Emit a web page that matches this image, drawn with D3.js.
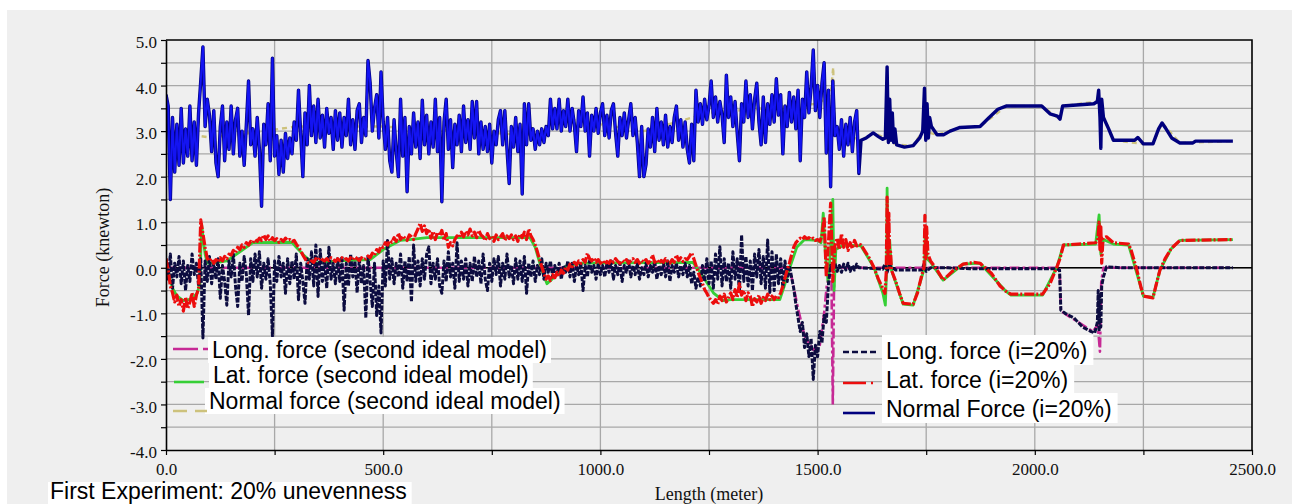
<!DOCTYPE html>
<html>
<head>
<meta charset="utf-8">
<script src="https://cdn.jsdelivr.net/npm/d3@7"></script>
<style>
  html, body { margin: 0; padding: 0; background: #ffffff; }
  svg { display: block; }
</style>
</head>
<body>
<svg id="chart" width="1292" height="504"></svg>
<script>
// ---------------------------------------------------------------------------
// Measured run, 20% unevenness. Rough stretch recorded every 5 m (0 .. 1595 m),
// smoother stretch given as [length, force] pairs.
// ---------------------------------------------------------------------------
const sampleStep = 5;

// Normal force (i=20%), kN
const normalRough = [
  3.80, 3.55, 1.50, 3.30, 2.10, 3.15, 2.25, 3.50, 2.30, 3.05, 2.45, 3.55, 2.35, 3.20, 2.25, 3.40, 4.10, 4.85, 3.10, 3.70,
  3.35, 2.55, 3.45, 2.30, 2.00, 3.10, 3.55, 2.35, 3.20, 2.60, 3.55, 2.50, 3.25, 3.50, 2.45, 3.00, 2.25, 3.15, 4.10, 2.70,
  3.05, 2.45, 3.30, 2.60, 1.35, 3.15, 2.70, 3.60, 2.35, 4.60, 2.45, 2.90, 2.05, 2.80, 2.10, 2.95, 2.40, 2.85, 2.50, 3.20,
  2.80, 3.90, 2.95, 2.00, 3.40, 2.70, 4.00, 2.90, 3.55, 2.75, 3.70, 2.85, 3.35, 2.65, 3.50, 2.95, 3.30, 2.60, 3.45, 2.80,
  3.40, 2.65, 3.30, 2.90, 3.70, 2.70, 3.25, 2.60, 3.45, 3.60, 2.75, 3.30, 2.90, 4.55, 4.05, 3.00, 3.50, 3.80, 2.85, 4.30,
  3.20, 2.60, 3.30, 2.35, 2.10, 3.25, 2.55, 2.00, 3.70, 2.45, 3.30, 1.67, 3.10, 2.50, 3.40, 2.65, 3.20, 2.40, 3.68, 2.70,
  3.35, 2.50, 3.20, 2.65, 3.70, 2.55, 3.30, 1.45, 3.20, 3.70, 2.60, 3.25, 2.20, 3.15, 2.70, 3.35, 2.55, 3.55, 2.75, 3.25,
  2.60, 3.65, 2.85, 3.65, 2.50, 3.20, 2.60, 3.10, 2.55, 3.15, 2.30, 3.00, 2.70, 3.25, 3.45, 2.70, 3.45, 2.60, 1.85, 3.10,
  2.65, 3.30, 2.55, 3.15, 1.62, 3.60, 2.70, 3.60, 2.80, 3.05, 2.60, 3.00, 2.70, 3.05, 2.75, 3.10, 2.90, 3.70, 3.05, 3.50,
  3.05, 3.70, 3.00, 3.45, 3.10, 3.70, 3.00, 3.50, 3.15, 2.55, 3.45, 3.10, 3.75, 3.00, 3.40, 2.45, 3.35, 3.00, 3.50, 2.95,
  3.40, 3.60, 2.90, 3.35, 2.85, 3.45, 3.60, 2.95, 2.45, 3.30, 2.90, 3.40, 2.85, 3.25, 3.60, 2.90, 3.30, 2.75, 2.00, 3.10,
  2.00, 2.27, 3.05, 2.65, 3.30, 2.55, 3.50, 2.80, 3.20, 2.70, 3.35, 2.65, 3.10, 2.75, 3.30, 3.55, 2.80, 3.25, 2.65, 3.20,
  2.60, 2.30, 3.15, 2.35, 3.90, 3.20, 3.60, 3.15, 3.70, 3.25, 3.55, 4.10, 3.30, 3.75, 3.20, 3.65, 3.35, 2.75, 4.23, 3.30,
  3.75, 3.10, 3.65, 2.95, 2.35, 3.60, 3.20, 4.10, 3.30, 3.80, 3.05, 3.70, 4.05, 3.20, 2.70, 3.75, 2.75, 3.60, 3.15, 3.80,
  3.20, 4.15, 3.35, 3.80, 2.50, 3.55, 3.10, 3.85, 3.20, 3.75, 3.05, 3.90, 2.35, 3.70, 3.30, 4.30, 3.40, 3.95, 4.78, 3.45,
  4.00, 3.30, 4.05, 4.50, 2.52, 3.90, 1.78, 4.10, 2.90, 3.10, 2.60, 3.25, 2.45, 3.15, 2.70, 3.30, 2.55, 3.20, 3.45, 2.07
];
const normalSmooth = [
  [1600, 2.80], [1612, 2.85], [1628, 2.96], [1640, 2.88], [1650, 2.82], [1656, 2.85], [1660, 4.41], [1663, 2.75],
  [1666, 3.70], [1669, 2.80], [1672, 3.40], [1675, 2.75], [1678, 3.05], [1682, 2.70], [1700, 2.65], [1720, 2.68],
  [1735, 2.85], [1742, 3.00], [1746, 3.94], [1749, 2.80], [1752, 3.60], [1755, 2.85], [1758, 3.30], [1762, 3.10],
  [1775, 2.92], [1790, 2.92], [1805, 3.00], [1828, 3.08], [1874, 3.10], [1895, 3.30], [1915, 3.48], [1934, 3.55],
  [2016, 3.55], [2035, 3.38], [2052, 3.33], [2058, 3.26], [2064, 3.55], [2136, 3.60], [2144, 3.65], [2147, 3.90],
  [2150, 3.30], [2152, 2.62], [2154, 3.70], [2158, 3.30], [2170, 3.05], [2181, 2.80], [2230, 2.80], [2237, 2.86],
  [2250, 2.72], [2272, 2.72], [2285, 3.05], [2293, 3.18], [2300, 3.08], [2315, 2.85], [2334, 2.74], [2364, 2.74],
  [2370, 2.78], [2456, 2.78]
];

// Longitudinal force (i=20%), kN
const longRough = [
  0.20, -0.25, 0.30, -0.45, 0.10, -0.20, 0.25, -0.35, 0.15, -0.50, 0.05, -0.30, 0.30, -0.15, 0.10, -0.40, 0.20, -1.54, 0.15, -0.30,
  0.25, -0.35, 0.10, -0.25, 0.20, -0.67, 0.05, -0.30, -0.82, 0.15, -0.20, 0.30, -0.40, -0.85, 0.10, -0.30, 0.25, -0.15, -1.04, 0.20,
  -0.30, 0.30, -0.20, 0.35, -0.45, 0.10, -0.25, 0.20, -0.35, -1.50, 0.15, -0.30, 0.25, -0.20, 0.10, -0.56, 0.20, -0.35, 0.15, -0.25,
  0.30, -0.70, 0.10, -0.30, -0.78, 0.20, -0.25, 0.35, -0.40, 0.50, -0.63, 0.40, -0.30, 0.15, -0.45, 0.45, -0.25, 0.10, -0.35, 0.20,
  -0.30, 0.25, -0.93, 0.10, -0.40, 0.30, -0.20, 0.15, -0.55, 0.20, -0.35, 0.05, -1.10, 0.25, -0.30, -0.85, 0.10, -1.05, -0.40, -1.43,
  0.15, -0.40, 0.60, -0.25, 0.20, -0.35, 0.10, -0.20, 0.30, -0.45, 0.15, -0.30, 0.25, -0.75, 0.50, -0.30, 0.15, -0.40, 0.20, -0.25,
  0.30, 0.46, -0.35, 0.10, -0.25, 0.20, -0.40, -0.56, 0.15, -0.30, 0.35, -0.20, 0.10, -0.45, 0.55, -0.30, 0.15, -0.25, 0.20, -0.40,
  0.10, -0.30, 0.25, -0.20, 0.15, -0.35, 0.30, -0.25, -0.50, 0.10, -0.30, 0.20, -0.15, 0.25, -0.40, 0.10, -0.25, 0.30, -0.20, 0.05,
  -0.35, 0.20, -0.25, 0.15, -0.30, 0.25, -0.56, 0.10, -0.20, 0.15, -0.30, 0.05, -0.15, 0.20, -0.25, 0.10, -0.10, 0.15, -0.20, 0.05,
  -0.15, 0.10, -0.25, 0.05, -0.10, 0.15, -0.20, 0.10, -0.30, 0.05, -0.15, 0.10, -0.50, 0.05, -0.20, 0.15, -0.10, 0.05, -0.25, 0.10,
  -0.15, 0.05, -0.20, 0.10, -0.10, 0.15, -0.25, 0.05, -0.15, 0.10, -0.30, 0.05, -0.10, 0.15, -0.20, 0.05, -0.15, 0.10, -0.25, 0.00,
  -0.15, 0.10, -0.20, 0.05, -0.10, 0.15, -0.25, 0.05, -0.15, 0.10, -0.20, 0.15, -0.30, 0.05, -0.10, 0.10, -0.20, 0.05, -0.15, 0.10,
  -0.20, 0.05, -0.35, -0.10, -0.45, -0.20, -0.40, 0.05, -0.30, 0.20, -0.35, 0.15, -0.45, 0.30, -0.25, 0.46, -0.40, 0.20, -0.30, 0.10,
  -0.45, 0.35, -0.25, 0.20, -0.55, 0.72, -0.30, 0.25, -0.40, 0.15, -0.50, 0.30, -0.20, 0.40, -0.35, 0.25, -0.45, 0.61, -0.54, 0.35,
  -0.50, 0.30, -0.35, 0.20, -0.45, 0.15, -0.30, 0.05, -0.20, -0.45, -0.80, -1.10, -1.40, -1.20, -1.75, -1.45, -1.95, -1.55, -2.45, -1.70,
  -1.95, -1.40, -1.65, -1.05, -1.20, -0.35, 0.05, -0.05, 0.10, -0.08, 0.05, -0.10, 0.08, -0.05, 0.10, -0.08, 0.05, -0.05, 0.08, 0.00
];
const longSmooth = [
  [1600, 0.00], [1650, -0.03], [1655, 0.08], [1660, -0.10], [1665, 0.05], [1680, -0.05], [1740, -0.05], [1745, 0.08],
  [1750, -0.08], [1760, 0.00], [1800, 0.00], [1850, -0.02], [1900, -0.02], [2050, -0.02], [2057, -0.05], [2060, -0.93],
  [2070, -1.00], [2090, -1.10], [2110, -1.30], [2130, -1.40], [2138, -1.43], [2144, -1.20], [2146, -0.50], [2148, -1.40],
  [2150, -0.60], [2152, -1.30], [2154, -0.40], [2158, -0.20], [2165, 0.02], [2200, 0.00], [2456, 0.00]
];

// Lateral force (i=20%), kN
const latRough = [
  0.20, -0.05, -0.40, -0.55, -0.75, -0.60, -0.85, -0.70, -0.95, -0.65, -0.90, -0.75, -0.55, -0.85, -0.60, -0.45, 1.05, 0.75, 0.45, 0.20,
  0.15, 0.20, 0.10, 0.18, 0.12, 0.22, 0.15, 0.25, 0.20, 0.30, 0.28, 0.38, 0.33, 0.45, 0.40, 0.50, 0.45, 0.55, 0.50, 0.58,
  0.55, 0.62, 0.58, 0.65, 0.60, 0.72, 0.62, 0.70, 0.58, 0.66, 0.60, 0.64, 0.56, 0.62, 0.58, 0.65, 0.60, 0.62, 0.58, 0.60,
  0.52, 0.45, 0.38, 0.28, 0.20, 0.12, 0.10, 0.15, 0.12, 0.20, 0.16, 0.22, 0.18, 0.15, 0.20, 0.16, 0.22, 0.18, 0.14, 0.20,
  0.16, 0.22, 0.18, 0.20, 0.15, 0.22, 0.18, 0.24, 0.20, 0.16, 0.22, 0.18, 0.20, 0.26, 0.22, 0.32, 0.28, 0.40, 0.35, 0.48,
  0.45, 0.55, 0.50, 0.60, 0.56, 0.66, 0.58, 0.76, 0.62, 0.70, 0.65, 0.60, 0.72, 0.68, 0.62, 0.75, 0.85, 0.98, 0.80, 0.92,
  0.75, 0.85, 0.65, 0.80, 0.62, 0.78, 0.70, 0.82, 0.60, 0.75, 0.45, 0.55, 0.48, 0.62, 0.70, 0.66, 0.78, 0.68, 0.80, 0.72,
  0.85, 0.70, 0.78, 0.66, 0.82, 0.72, 0.68, 0.60, 0.75, 0.64, 0.70, 0.58, 0.72, 0.62, 0.68, 0.75, 0.60, 0.70, 0.64, 0.72,
  0.62, 0.70, 0.58, 0.74, 0.66, 0.78, 0.62, 0.85, 0.70, 0.62, 0.50, 0.35, 0.18, 0.02, -0.12, -0.25, -0.18, -0.28, -0.15, -0.22,
  -0.10, -0.18, -0.05, -0.12, 0.02, -0.05, 0.08, 0.02, 0.12, 0.06, 0.15, 0.10, 0.18, 0.12, 0.32, 0.20, 0.15, 0.22, 0.12, 0.18,
  0.10, 0.16, 0.08, 0.14, 0.10, 0.18, 0.12, 0.20, 0.14, 0.10, 0.16, 0.12, 0.18, 0.10, 0.15, 0.20, 0.12, 0.18, 0.10, 0.16,
  0.12, 0.18, 0.10, 0.15, 0.28, 0.12, 0.18, 0.10, 0.16, 0.12, 0.20, 0.14, 0.10, 0.18, 0.12, 0.28, 0.16, 0.22, 0.14, 0.20,
  0.18, 0.25, 0.33, 0.20, 0.05, -0.10, -0.22, -0.35, -0.48, -0.56, -0.65, -0.72, -0.78, -0.70, -0.80, -0.62, -0.72, -0.58, -0.75, -0.65,
  -0.55, -0.70, -0.48, -0.65, -0.35, -0.60, -0.50, -0.72, -0.55, -0.62, -0.85, -0.68, -0.75, -0.60, -0.78, -0.65, -0.72, -0.58, -0.70, -0.62,
  -0.70, -0.62, -0.66, -0.55, -0.40, -0.22, -0.05, 0.10, 0.28, 0.45, 0.55, 0.60, 0.65, 0.62, 0.68, 0.64, 0.66, 0.62, 0.65, 0.60,
  0.62, 0.58, 0.70, 1.12, -0.20, 0.55, 1.42, -0.30, 0.50, 0.65, 0.40, 0.75, 0.45, 0.62, 0.38, 0.55, 0.42, 0.60, 0.48, 0.52
];
const latSmooth = [
  [1600, 0.50], [1610, 0.35], [1620, 0.20], [1630, 0.00], [1640, -0.25], [1650, -0.45], [1655, -0.56], [1658, -0.10],
  [1660, 1.55], [1662, 0.30], [1664, 1.20], [1666, 0.00], [1668, 0.35], [1670, -0.05], [1680, -0.30], [1690, -0.60],
  [1697, -0.78], [1720, -0.80], [1730, -0.55], [1740, -0.15], [1745, 0.00], [1747, 1.15], [1749, 0.20], [1751, 0.90],
  [1754, 0.30], [1760, 0.15], [1775, -0.05], [1789, -0.27], [1810, -0.08], [1835, 0.08], [1860, 0.12], [1874, 0.10],
  [1900, -0.12], [1920, -0.40], [1934, -0.52], [1945, -0.58], [2018, -0.58], [2035, -0.35], [2051, 0.02], [2058, 0.20],
  [2066, 0.50], [2100, 0.52], [2140, 0.55], [2145, 0.60], [2148, 1.00], [2150, 0.40], [2152, 0.90], [2154, 0.10],
  [2157, 0.65], [2165, 0.68], [2181, 0.55], [2216, 0.52], [2222, 0.38], [2235, -0.05], [2245, -0.45], [2250, -0.62],
  [2272, -0.66], [2280, -0.35], [2288, -0.05], [2300, 0.20], [2314, 0.42], [2334, 0.60], [2456, 0.62]
];

// Second ideal model, [length, force] pairs
const longIdeal = [
  [0, 0.00], [1430, 0.00], [1440, -0.20], [1455, -0.90], [1470, -1.50], [1490, -1.80], [1505, -1.70], [1515, -1.00],
  [1521, -0.40], [1528, -0.10], [1532, -0.30], [1535, -3.00], [1538, -0.20], [1542, 0.05], [1560, 0.00], [2057, 0.00],
  [2060, -0.95], [2134, -1.40], [2145, -1.25], [2150, -1.84], [2153, -0.30], [2158, 0.00], [2456, 0.00]
];
const latIdeal = [
  [0, 0.20], [8, -0.20], [15, -0.45], [25, -0.62], [40, -0.72], [60, -0.68], [72, -0.55], [78, -0.35], [82, 0.95],
  [86, 0.60], [90, 0.30], [95, 0.10], [120, 0.12], [140, 0.15], [170, 0.35], [200, 0.55], [290, 0.56], [300, 0.45],
  [320, 0.25], [339, 0.10], [400, 0.15], [470, 0.18], [500, 0.40], [539, 0.60], [560, 0.62], [601, 0.66], [700, 0.66],
  [838, 0.66], [850, 0.45], [865, -0.05], [877, -0.35], [900, -0.15], [923, 0.05], [960, 0.10], [1213, 0.12],
  [1230, -0.10], [1260, -0.55], [1282, -0.72], [1300, -0.70], [1413, -0.70], [1425, -0.35], [1436, 0.00], [1452, 0.45],
  [1470, 0.62], [1500, 0.60], [1508, 0.55], [1513, 1.20], [1518, 0.30], [1524, -0.30], [1530, 0.40], [1535, 1.50],
  [1538, -0.50], [1542, 0.40], [1560, 0.50], [1600, 0.48], [1630, 0.00], [1650, -0.55], [1656, -0.82], [1659, 0.00],
  [1660, 1.75], [1662, 0.20], [1666, 0.60], [1670, -0.05], [1697, -0.80], [1720, -0.82], [1740, -0.20], [1746, 0.00],
  [1748, 0.85], [1752, 0.20], [1760, 0.12], [1789, -0.27], [1835, 0.08], [1874, 0.10], [1934, -0.52], [1945, -0.60],
  [2018, -0.60], [2051, 0.02], [2066, 0.50], [2140, 0.52], [2148, 1.16], [2152, 0.30], [2158, 0.62], [2181, 0.52],
  [2216, 0.50], [2250, -0.62], [2272, -0.65], [2288, -0.05], [2314, 0.42], [2334, 0.60], [2456, 0.62]
];
const normalIdeal = [
  [0, 3.00], [94, 2.87], [150, 2.90], [300, 3.10], [500, 3.10], [860, 2.90], [900, 3.30], [1100, 3.00], [1250, 3.40],
  [1500, 3.60], [1530, 3.80], [1536, 4.40], [1538, 3.00], [1600, 2.80], [1628, 2.96], [1656, 2.85], [1682, 2.70],
  [1720, 2.68], [1742, 3.00], [1775, 2.92], [1828, 3.08], [1874, 3.10], [1934, 3.55], [2016, 3.55], [2058, 3.26],
  [2064, 3.55], [2144, 3.65], [2181, 2.80], [2250, 2.72], [2272, 2.72], [2293, 3.18], [2334, 2.74], [2456, 2.78]
];

// Axis ticks
const xTicks = [0, 250, 500, 750, 1000, 1250, 1500, 1750, 2000, 2250, 2500];
const yTicks = [-4, -3.5, -3, -2.5, -2, -1.5, -1, -0.5, 0, 0.5, 1, 1.5, 2, 2.5, 3, 3.5, 4, 4.5, 5];

// Legend texts
const idealLabels = ["Long. force (second ideal model)", "Lat. force (second ideal model)", "Normal force (second ideal model)"];
const measuredLabels = ["Long. force (i=20%)", "Lat. force (i=20%)", "Normal Force (i=20%)"];
const captionText = "First Experiment: 20% unevenness";

// ---------------------------------------------------------------------------
const svg = d3.select("#chart");
const W = 1292, H = 504;
const plot = { left: 166, right: 1252, top: 40, bottom: 450 };

const x = d3.scaleLinear().domain([0, 2500]).range([plot.left, plot.right]);
const y = d3.scaleLinear().domain([-4, 5]).range([plot.bottom, plot.top]);

const toPoints = vals => vals.map((v, i) => [i * sampleStep, v]);
const normalPts = toPoints(normalRough).concat(normalSmooth);
const longPts = toPoints(longRough).concat(longSmooth);
const latPts = toPoints(latRough).concat(latSmooth);

const COLORS = {
  panel: "#efefef",
  grid: "#a8a8a8",
  normal: "#00007e",
  normalCore: "#1414f2",
  long: "#0c0c40",
  lat: "#ec0d0d",
  longIdeal: "#c62a95",
  latIdeal: "#36cf36",
  normalIdeal: "#cdc27c"
};

// one decimal, plain hyphen for negatives
const fmt1 = d => d.toFixed(1);

// panel background
svg.append("rect").attr("x", 0).attr("y", 0).attr("width", W).attr("height", H).attr("fill", "#ffffff");
svg.append("rect").attr("x", 7).attr("y", 10).attr("width", W - 7).attr("height", H - 10).attr("fill", COLORS.panel);

svg.append("defs").append("clipPath").attr("id", "plotClip")
  .append("rect")
  .attr("x", plot.left).attr("y", plot.top)
  .attr("width", plot.right - plot.left).attr("height", plot.bottom - plot.top);

// grid
const grid = svg.append("g").attr("class", "grid");
grid.selectAll("line.h").data(yTicks.filter(d => d > -4 && d < 5)).join("line")
  .attr("class", "h")
  .attr("x1", plot.left).attr("x2", plot.right)
  .attr("y1", d => y(d)).attr("y2", d => y(d))
  .attr("stroke", COLORS.grid).attr("stroke-width", 1.3);
grid.selectAll("line.v").data(xTicks.filter(d => d > 0 && d < 2500)).join("line")
  .attr("class", "v")
  .attr("y1", plot.top).attr("y2", plot.bottom)
  .attr("x1", d => x(d)).attr("x2", d => x(d))
  .attr("stroke", COLORS.grid).attr("stroke-width", 1.3);

// zero line
svg.append("line")
  .attr("x1", plot.left).attr("x2", plot.right)
  .attr("y1", y(0)).attr("y2", y(0))
  .attr("stroke", "#000").attr("stroke-width", 1.4);

// series
const line = d3.line().x(d => x(d[0])).y(d => y(d[1]));
const series = svg.append("g").attr("clip-path", "url(#plotClip)")
  .attr("fill", "none").attr("stroke-linejoin", "round");

series.append("path").attr("d", line(longIdeal))
  .attr("stroke", COLORS.longIdeal).attr("stroke-width", 2.6).attr("stroke-dasharray", "10,3,3,3");
series.append("path").attr("d", line(latIdeal))
  .attr("stroke", COLORS.latIdeal).attr("stroke-width", 2.8);
series.append("path").attr("d", line(normalIdeal))
  .attr("stroke", COLORS.normalIdeal).attr("stroke-width", 2.4).attr("stroke-dasharray", "5,4");
series.append("path").attr("d", line(longPts))
  .attr("stroke", COLORS.long).attr("stroke-width", 3.0).attr("stroke-dasharray", "5,1.5");
series.append("path").attr("d", line(latPts))
  .attr("stroke", COLORS.lat).attr("stroke-width", 3.2).attr("stroke-dasharray", "10,2,2,2");
series.append("path").attr("d", line(normalPts))
  .attr("stroke", COLORS.normal).attr("stroke-width", 3.4);
// bright core along the rough stretch of the normal force
series.append("path").attr("d", line(toPoints(normalRough)))
  .attr("stroke", COLORS.normalCore).attr("stroke-width", 2.0);

// axes
const serif = "'Liberation Serif', 'Times New Roman', serif";
const yAxis = d3.axisLeft(y).tickValues(yTicks).tickSize(5).tickSizeOuter(0).tickPadding(4)
  .tickFormat(d => Number.isInteger(d) ? fmt1(d) : "");
const xAxis = d3.axisBottom(x).tickValues(xTicks).tickSize(5).tickSizeOuter(0).tickPadding(8)
  .tickFormat(d => d % 500 === 0 ? fmt1(d) : "");

const gy = svg.append("g").attr("transform", `translate(${plot.left},0)`).call(yAxis);
const gx = svg.append("g").attr("transform", `translate(0,${plot.bottom})`).call(xAxis);
[gx, gy].forEach(g => {
  g.select(".domain").attr("stroke", "#000").attr("stroke-width", 1.6);
  g.selectAll(".tick line").attr("stroke", "#000").attr("stroke-width", 1.2);
  g.selectAll(".tick text").attr("fill", "#111").style("font-family", serif).style("font-size", "17px");
});
gy.selectAll(".tick text").attr("dy", "0.45em");

// top and right frame
svg.append("path")
  .attr("d", `M${plot.left},${plot.top}H${plot.right}V${plot.bottom}`)
  .attr("fill", "none").attr("stroke", "#000").attr("stroke-width", 1.6);

// axis titles
svg.append("text")
  .attr("transform", "translate(109,247.5) rotate(-90)")
  .attr("text-anchor", "middle")
  .style("font-family", serif).style("font-size", "18px").attr("fill", "#111")
  .text("Force (knewton)");
svg.append("text")
  .attr("x", (plot.left + plot.right) / 2).attr("y", 500)
  .attr("text-anchor", "middle")
  .style("font-family", serif).style("font-size", "18px").attr("fill", "#111")
  .text("Length (meter)");

// legend helpers
const sans = "'Liberation Sans', Arial, sans-serif";
function boxedText(g, label, tx, base, up, down, padL, padR, size) {
  const t = g.append("text").attr("x", tx).attr("y", base)
    .style("font-family", sans).style("font-size", size + "px").attr("fill", "#000")
    .text(label);
  const w = t.node().getComputedTextLength();
  g.insert("rect", "text")
    .attr("x", tx - padL).attr("y", base - up)
    .attr("width", w + padL + padR).attr("height", up + down)
    .attr("fill", "#ffffff");
}

// legend for the second ideal model
const legIdeal = svg.append("g");
const idealRows = [
  { tx: 212, base: 358, sy: 349, color: COLORS.longIdeal, dash: "25,5,5,10", x1: 173, x2: 208, w: 2.6 },
  { tx: 213, base: 383, sy: 382, color: COLORS.latIdeal, dash: null, x1: 174, x2: 204, w: 2.6 },
  { tx: 209, base: 409, sy: 411, color: COLORS.normalIdeal, dash: "14,8,12,10", x1: 173, x2: 207, w: 2.4 }
];
idealRows.forEach((r, i) => {
  const g = legIdeal.append("g");
  boxedText(g, idealLabels[i], r.tx, r.base, 21, 5, 4, 4, 23);
  legIdeal.append("line").attr("x1", r.x1).attr("x2", r.x2).attr("y1", r.sy).attr("y2", r.sy)
    .attr("stroke", r.color).attr("stroke-width", r.w).attr("stroke-dasharray", r.dash);
});

// legend for the measured run
const legMeas = svg.append("g");
const measRows = [
  { base: 359, sy: 352, color: COLORS.long, dash: "6,3", x1: 843, x2: 878 },
  { base: 388, sy: 383, color: COLORS.lat, dash: "23,5,2,20", x1: 843, x2: 878 },
  { base: 417, sy: 413, color: COLORS.normal, dash: null, x1: 843, x2: 875 }
];
measRows.forEach((r, i) => {
  const g = legMeas.append("g");
  boxedText(g, measuredLabels[i], 886, r.base, 24, 6, 4, 6, 23);
  legMeas.append("line").attr("x1", r.x1).attr("x2", r.x2).attr("y1", r.sy).attr("y2", r.sy)
    .attr("stroke", r.color).attr("stroke-width", 2.6).attr("stroke-dasharray", r.dash);
});

// caption
const cap = svg.append("g");
boxedText(cap, captionText, 50, 499, 17, 5, 2, 5, 23);
</script>
</body>
</html>
